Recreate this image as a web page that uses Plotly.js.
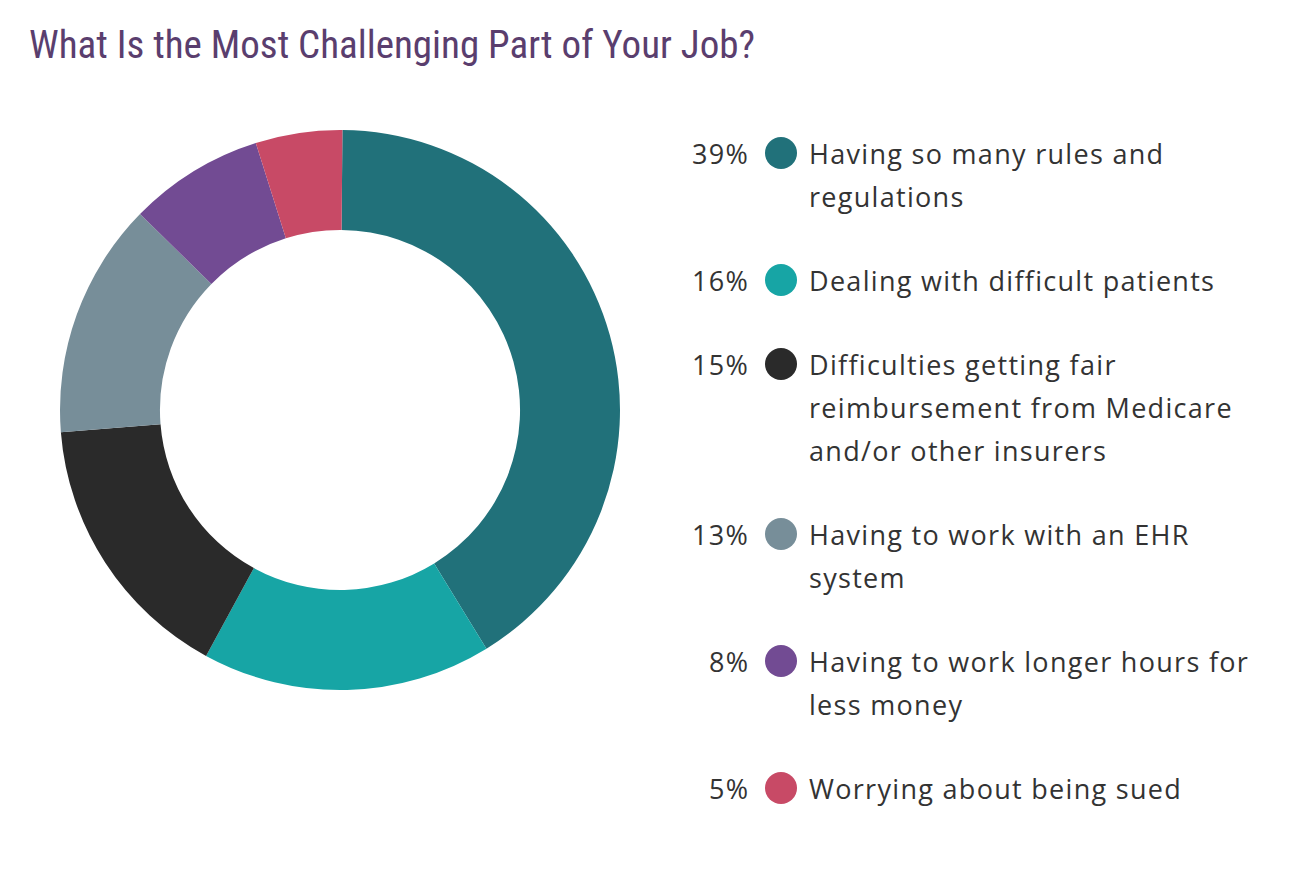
<!DOCTYPE html>
<html>
<head>
<meta charset="utf-8">
<script src="https://cdn.plot.ly/plotly-3.0.1.min.js"></script>
<style>
html,body{margin:0;padding:0;background:#fff;}
#chart{width:1290px;height:878px;}
.annotation-text{letter-spacing:1.3px;}
</style>
</head>
<body>
<div id="chart"></div>
<script>
// ---- data ----
const categories = [
  "Having so many rules and regulations",
  "Dealing with difficult patients",
  "Difficulties getting fair reimbursement from Medicare and/or other insurers",
  "Having to work with an EHR system",
  "Having to work longer hours for less money",
  "Worrying about being sued"
];
const labelLines = [
  ["Having so many rules and", "regulations"],
  ["Dealing with difficult patients"],
  ["Difficulties getting fair", "reimbursement from Medicare", "and/or other insurers"],
  ["Having to work with an EHR", "system"],
  ["Having to work longer hours for", "less money"],
  ["Worrying about being sued"]
];
// percentages printed in the legend
const percents = [39, 16, 15, 13, 8, 5];
// slice shares as drawn in the ring
const sliceShares = [41.1, 16.7, 15.8, 13.6, 7.8, 5.0];
const colors = ["#21717A", "#17A5A5", "#2A2A2A", "#778E99", "#724B93", "#C84A66"];
const titleText = "What Is the Most Challenging Part of Your Job?";

// ---- layout helpers ----
const W = 1290, H = 878;
const px = x => x / W;
const py = y => 1 - y / H;

const cx = 340, cy = 410, R = 280;

const annotations = [];
const shapes = [];
let rowY = 153;          // centre of first line of first row
const lineH = 43, gap = 41;
const legendFont = {family: "'Open Sans', Lato, sans-serif", size: 27, color: "#333333"};
percents.forEach((p, i) => {
  annotations.push({
    xref: "paper", yref: "paper", x: px(751), y: py(rowY),
    xanchor: "right", yanchor: "middle", showarrow: false,
    text: p + "%", font: legendFont
  });
  shapes.push({
    type: "circle", xref: "paper", yref: "paper",
    x0: px(765), x1: px(797), y0: py(rowY - 16), y1: py(rowY + 16),
    fillcolor: colors[i], line: {width: 0}
  });
  labelLines[i].forEach((ln, j) => {
    annotations.push({
      xref: "paper", yref: "paper", x: px(807), y: py(rowY + j * lineH),
      xanchor: "left", yanchor: "middle", showarrow: false,
      text: ln, font: legendFont
    });
  });
  rowY += labelLines[i].length * lineH + gap;
});

const trace = {
  type: "pie",
  values: sliceShares,
  labels: categories,
  marker: {colors: colors, line: {width: 0}},
  hole: 0.643,
  sort: false,
  direction: "clockwise",
  rotation: 0.5,
  textinfo: "none",
  hoverinfo: "label",
  showlegend: false,
  domain: {x: [px(cx - R), px(cx + R)], y: [py(cy + R), py(cy - R)]}
};

const layout = {
  width: W, height: H,
  margin: {l: 0, r: 0, t: 0, b: 0},
  paper_bgcolor: "#ffffff",
  plot_bgcolor: "#ffffff",
  showlegend: false,
  title: {
    text: titleText,
    x: px(29), xanchor: "left", xref: "paper",
    y: py(44), yanchor: "middle", yref: "paper",
    font: {family: "'Roboto Condensed', 'Liberation Sans Narrow', Roboto, sans-serif", size: 39, color: "#5A3E6E"}
  },
  annotations: annotations,
  shapes: shapes
};

Plotly.newPlot("chart", [trace], layout, {displayModeBar: false, staticPlot: true});
</script>
</body>
</html>
